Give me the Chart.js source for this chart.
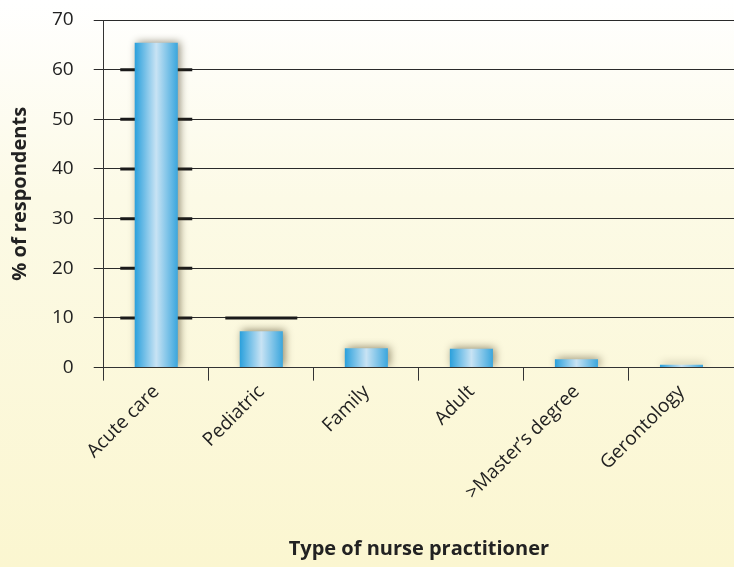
<!DOCTYPE html>
<html>
<head>
<meta charset="utf-8">
<script src="https://cdn.jsdelivr.net/npm/chart.js@4/dist/chart.umd.min.js"></script>
<style>
  html, body { margin: 0; padding: 0; overflow: hidden; background: #fcf9e0; }
  #wrap { width: 734px; height: 567px; }
</style>
</head>
<body>
<div id="wrap"><canvas id="chart" width="734" height="567"></canvas></div>
<script>
const categories = ['Acute care', 'Pediatric', 'Family', 'Adult', '>Master\u2019s degree', 'Gerontology'];
const respondents = [65.4, 7.3, 3.9, 3.8, 1.7, 0.6];
const yTicks = [0, 10, 20, 30, 40, 50, 60, 70];
// thick dash marks on gridlines around some bars: [category index, tick value]
const dashMarks = [[0, 10], [0, 20], [0, 30], [0, 40], [0, 50], [0, 60], [1, 10]];

const BAR_PCT = 0.41;

const backgroundPlugin = {
    id: 'bg',
    beforeDraw(chart) {
        const { ctx, width, height } = chart;
        const g = ctx.createLinearGradient(0, 0, 0, height);
        g.addColorStop(0, '#ffffff');
        g.addColorStop(0.35, '#fcfae6');
        g.addColorStop(1, '#fbf6d0');
        ctx.save();
        ctx.fillStyle = g;
        ctx.fillRect(0, 0, width, height);
        ctx.restore();
    }
};

const barStylePlugin = {
    id: 'barStyle',
    beforeDatasetsDraw(chart) {
        const { ctx, scales } = chart;
        const meta = chart.getDatasetMeta(0);
        ctx.save();
        ctx.strokeStyle = '#1a1a1a';
        ctx.lineWidth = 3;
        dashMarks.forEach(([i, v]) => {
            const bar = meta.data[i];
            const y = scales.y.getPixelForValue(v);
            ctx.beginPath();
            ctx.moveTo(bar.x - 36, y);
            ctx.lineTo(bar.x + 36, y);
            ctx.stroke();
        });
        ctx.restore();
        ctx.save();
        ctx.shadowColor = 'rgba(60, 50, 20, 0.55)';
        ctx.shadowBlur = 8;
        ctx.shadowOffsetX = 2;
        ctx.shadowOffsetY = -1;
    },
    afterDatasetsDraw(chart) {
        chart.ctx.restore();
    }
};

function barGradient(context) {
    const chart = context.chart;
    const x = chart.scales.x;
    if (!x || !chart.chartArea || context.dataIndex === undefined) return '#5ab4e4';
    const center = x.getPixelForValue(context.dataIndex);
    const w = (x.width / categories.length) * BAR_PCT;
    const left = center - w / 2;
    const g = chart.ctx.createLinearGradient(left, 0, left + w, 0);
    g.addColorStop(0, '#2aa0dc');
    g.addColorStop(0.5, '#c8e3f4');
    g.addColorStop(1, '#3aa6dd');
    return g;
}

new Chart(document.getElementById('chart').getContext('2d'), {
    type: 'bar',
    data: {
        labels: categories,
        datasets: [{
            data: respondents,
            backgroundColor: barGradient,
            borderWidth: 0,
            barPercentage: BAR_PCT,
            categoryPercentage: 1.0,
        }],
    },
    options: {
        responsive: false,
        animation: false,
        layout: { padding: { top: 20, left: 4, right: 0, bottom: 2 } },
        plugins: {
            legend: { display: false },
            tooltip: { enabled: false },
        },
        scales: {
            x: {
                afterFit(axis) {
                    axis.paddingRight = 0;
                },
                grid: {
                    display: true,
                    offset: true,
                    drawOnChartArea: false,
                    color: '#333',
                    tickLength: 13,
                },
                border: { color: '#333' },
                ticks: {
                    color: '#222',
                    font: { family: 'Open Sans', size: 19 },
                    maxRotation: 45,
                    minRotation: 45,
                    padding: 0,
                },
                title: {
                    display: true,
                    text: 'Type of nurse practitioner',
                    color: '#222',
                    font: { family: 'Open Sans', size: 20, weight: 'bold' },
                    padding: { top: 33, bottom: 4 },
                },
            },
            y: {
                min: 0,
                max: 70,
                afterBuildTicks(axis) {
                    axis.ticks = yTicks.map(v => ({ value: v }));
                },
                afterFit(axis) {
                    axis.paddingTop = 0;
                    axis.paddingBottom = 0;
                },
                grid: {
                    color: '#2a2a2a',
                    lineWidth: 1,
                    tickLength: 10,
                },
                border: { color: '#333' },
                ticks: {
                    color: '#222',
                    font: { family: 'Open Sans', size: 19 },
                    padding: 20,
                },
                title: {
                    display: true,
                    text: '% of respondents',
                    color: '#222',
                    font: { family: 'Open Sans', size: 20, weight: 'bold' },
                    padding: { top: 4, bottom: 0 },
                },
            },
        },
    },
    plugins: [backgroundPlugin, barStylePlugin],
});
</script>
</body>
</html>
